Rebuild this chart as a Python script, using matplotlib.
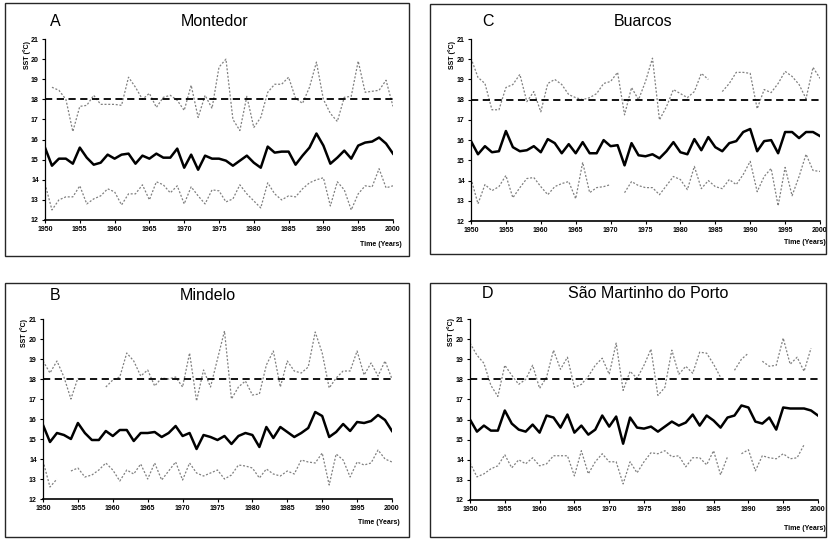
import numpy as np
import matplotlib
matplotlib.use("Agg")
import matplotlib.pyplot as plt
from matplotlib.patches import Rectangle

plt.rcParams['font.family'] = ['Liberation Sans', 'DejaVu Sans']

nan = np.nan
years = np.arange(1950, 2001)
threshold = 18.0

# Montedor (A)
montedor_max = [nan, 18.6, 18.45, 18.0, 16.4, 17.65, 17.7, 18.2, 17.75, 17.75,
                17.75, 17.7, 19.1, 18.6, 18.0, 18.3, 17.6, 18.1, 18.2, 17.95,
                17.45, 18.7, 17.1, 18.2, 17.55, 19.6, 20.0, 17.0, 16.45, 18.15,
                16.6, 17.1, 18.35, 18.75, 18.75, 19.1, 18.05, 17.8, 18.6, 19.85,
                18.0, 17.3, 16.9, 18.1, 18.15, 19.9, 18.35, 18.4, 18.45, 18.95, 17.65]
montedor_mean = [15.6, 14.7, 15.05, 15.05, 14.8, 15.6, 15.1, 14.75, 14.85, 15.25,
                 15.05, 15.25, 15.3, 14.8, 15.2, 15.05, 15.3, 15.1, 15.1, 15.55,
                 14.6, 15.25, 14.5, 15.2, 15.05, 15.05, 14.95, 14.7, 14.95, 15.2,
                 14.85, 14.6, 15.65, 15.35, 15.4, 15.4, 14.75, 15.2, 15.6, 16.3,
                 15.7, 14.8, 15.1, 15.45, 15.05, 15.7, 15.85, 15.9, 16.1, 15.8, 15.3]
montedor_min = [13.8, 12.5, 13.0, 13.15, 13.15, 13.7, 12.8, 13.05, 13.2, 13.55,
                13.4, 12.75, 13.3, 13.3, 13.75, 13.0, 13.9, 13.75, 13.35, 13.7,
                12.8, 13.65, 13.2, 12.8, 13.5, 13.45, 12.9, 13.05, 13.75, 13.3,
                12.95, 12.6, 13.85, 13.3, 13.0, 13.2, 13.15, 13.55, 13.85, 14.0,
                14.1, 12.7, 13.9, 13.5, 12.5, 13.3, 13.7, 13.65, 14.55, 13.6, 13.7]

# Buarcos (C)
buarcos_max = [20.05, 19.1, 18.8, 17.5, 17.5, 18.6, 18.75, 19.25, 17.9, 18.4,
               17.4, 18.8, 19.0, 18.75, 18.25, 18.1, 18.0, 18.1, 18.3, 18.8,
               18.9, 19.35, 17.25, 18.6, 18.0, 18.9, 20.05, 17.0, 17.65, 18.5,
               18.3, 18.1, 18.4, 19.3, 19.0, nan, 18.4, 18.8, 19.35, 19.35,
               19.3, 17.55, 18.5, 18.35, 18.8, 19.4, 19.15, 18.75, 18.05, 19.6, 19.05]
buarcos_mean = [15.95, 15.3, 15.7, 15.4, 15.45, 16.45, 15.65, 15.45, 15.5, 15.7,
                15.4, 16.05, 15.85, 15.35, 15.8, 15.35, 15.9, 15.35, 15.35, 16.0,
                15.7, 15.75, 14.75, 15.85, 15.25, 15.2, 15.3, 15.1, 15.45, 15.9,
                15.4, 15.3, 16.05, 15.5, 16.15, 15.65, 15.45, 15.85, 15.95, 16.4,
                16.55, 15.45, 15.95, 16.0, 15.35, 16.4, 16.4, 16.1, 16.4, 16.4, 16.2]
buarcos_min = [14.1, 12.85, 13.8, 13.5, 13.7, 14.25, 13.15, 13.65, 14.1, 14.15,
               13.7, 13.3, 13.7, 13.85, 13.95, 13.1, 14.9, 13.4, 13.65, 13.7,
               13.8, nan, 13.4, 13.95, 13.75, 13.65, 13.65, 13.3, 13.75, 14.2,
               14.05, 13.55, 14.7, 13.6, 14.0, 13.7, 13.6, 14.05, 13.8, 14.3,
               14.95, 13.45, 14.2, 14.6, 12.75, 14.65, 13.25, 14.2, 15.3, 14.5, 14.45]

# Mindelo (B)
mindelo_max = [18.9, 18.3, 18.9, 18.1, 17.0, 18.05, nan, nan, nan, 17.6,
               17.95, 18.1, 19.3, 18.9, 18.15, 18.45, 17.65, 18.05, 18.0, 18.1,
               17.6, 19.3, 16.9, 18.45, 17.6, 19.0, 20.4, 17.0, 17.6, 17.9,
               17.2, 17.25, 18.7, 19.4, 17.6, 18.9, 18.4, 18.3, 18.6, 20.35,
               19.3, 17.55, 18.05, 18.4, 18.4, 19.4, 18.2, 18.8, 18.15, 18.9, 18.0]
mindelo_mean = [15.7, 14.85, 15.3, 15.2, 15.0, 15.8, 15.3, 14.95, 14.95, 15.4,
                15.15, 15.45, 15.45, 14.9, 15.3, 15.3, 15.35, 15.1, 15.3, 15.65,
                15.15, 15.3, 14.5, 15.2, 15.1, 14.95, 15.15, 14.75, 15.15, 15.3,
                15.2, 14.6, 15.6, 15.05, 15.6, 15.35, 15.1, 15.3, 15.55, 16.35,
                16.15, 15.1, 15.35, 15.75, 15.4, 15.85, 15.8, 15.9, 16.2, 15.95, 15.4]
mindelo_min = [13.9, 12.6, 13.0, nan, 13.4, 13.55, 13.1, 13.2, 13.45, 13.8,
               13.45, 12.9, 13.45, 13.25, 13.75, 13.0, 13.8, 12.95, 13.4, 13.85,
               12.95, 13.8, 13.3, 13.15, 13.3, 13.45, 13.0, 13.2, 13.7, 13.65,
               13.55, 13.05, 13.5, 13.25, 13.15, 13.4, 13.25, 13.95, 13.85, 13.8,
               14.3, 12.7, 14.25, 13.95, 13.1, 13.85, 13.7, 13.8, 14.45, 14.0, 13.85]

# Sao Martinho do Porto (D)
smp_max = [19.8, 19.2, 18.8, 17.7, 17.15, 18.7, 18.2, 17.75, 18.0, 18.7,
           17.55, 18.1, 19.45, 18.5, 19.1, 17.6, 17.75, 18.15, 18.7, 19.05,
           18.25, 19.8, 17.45, 18.4, 18.05, 18.7, 19.5, 17.2, 17.6, 19.45,
           18.25, 18.65, 18.3, 19.35, 19.3, 18.75, 18.1, nan, 18.45, 19.0,
           19.3, nan, 18.9, 18.65, 18.7, 20.05, 18.75, 19.1, 18.4, 19.55, nan]
smp_mean = [16.0, 15.4, 15.7, 15.45, 15.45, 16.45, 15.8, 15.5, 15.4, 15.75,
            15.35, 16.2, 16.1, 15.6, 16.25, 15.35, 15.7, 15.25, 15.5, 16.2,
            15.65, 16.15, 14.8, 16.1, 15.6, 15.55, 15.65, 15.4, 15.65, 15.9,
            15.7, 15.85, 16.25, 15.7, 16.2, 15.95, 15.6, 16.1, 16.2, 16.7,
            16.6, 15.9, 15.8, 16.1, 15.5, 16.6, 16.55, 16.55, 16.55, 16.45, 16.2]
smp_min = [13.85, 13.15, 13.3, 13.55, 13.7, 14.25, 13.6, 14.0, 13.8, 14.1,
           13.7, 13.8, 14.2, 14.2, 14.2, 13.2, 14.45, 13.3, 13.9, 14.3,
           13.9, 13.9, 12.8, 13.9, 13.35, 13.9, 14.35, 14.3, 14.45, 14.15,
           14.2, 13.65, 14.1, 14.1, 13.75, 14.45, 13.25, 14.15, nan, 14.3,
           14.5, 13.45, 14.2, 14.1, 14.05, 14.3, 14.05, 14.1, 14.75, nan, 14.5]

W, H = 829, 540
fig = plt.figure(figsize=(W / 100, H / 100), dpi=100)


def fx(x):
    return x / W


def fy(y):
    return 1 - y / H


# panel layout in pixels: axes (x0, x1, ytop, ybottom), frame box, text spots
panels = [
    dict(letter='A', name='Montedor', data=(montedor_max, montedor_mean, montedor_min),
         ax=(45, 393, 39, 220), box=(5, 3, 409, 256), letter_xy=(50, 22), title_x=215,
         ylab=(27, 55), xlab=(402, 244)),
    dict(letter='C', name='Buarcos', data=(buarcos_max, buarcos_mean, buarcos_min),
         ax=(471, 820, 39, 221), box=(430, 4, 826, 254), letter_xy=(482, 22), title_x=643,
         ylab=(452, 55), xlab=(826, 243)),
    dict(letter='B', name='Mindelo', data=(mindelo_max, mindelo_mean, mindelo_min),
         ax=(43, 392, 319, 499), box=(5, 283, 409, 537), letter_xy=(50, 295), title_x=208,
         ylab=(24, 333), xlab=(400, 523)),
    dict(letter='D', name='São Martinho do Porto', data=(smp_max, smp_mean, smp_min),
         ax=(470, 818, 319, 500), box=(430, 283, 826, 537), letter_xy=(482, 293), title_x=648,
         ylab=(451, 332), xlab=(826, 528)),
]

for p in panels:
    x0, x1, yt, yb = p['ax']
    ax = fig.add_axes([fx(x0), fy(yb), (x1 - x0) / W, (yb - yt) / H])
    hi, mean, lo = p['data']

    ax.plot(years, hi, color='0.5', lw=0.9, ls=(0, (1.6, 1.4)))
    ax.plot(years, lo, color='0.5', lw=0.9, ls=(0, (1.6, 1.4)))
    ax.plot(years, mean, color='black', lw=1.8)
    ax.axhline(threshold, color='black', lw=1.3, ls=(0, (4, 2.5)))

    ax.set_xlim(1950, 2000)
    ax.set_ylim(12, 21)
    ax.set_xticks(np.arange(1950, 2001, 5))
    ax.set_yticks(np.arange(12, 22, 1))
    ax.tick_params(labelsize=5, length=2.5, width=0.8, pad=2)
    for lab in ax.get_xticklabels() + ax.get_yticklabels():
        lab.set_fontweight('bold')
    for s in ['top', 'right']:
        ax.spines[s].set_visible(False)
    ax.spines['left'].set_linewidth(0.9)
    ax.spines['bottom'].set_linewidth(1.2)
    ax.patch.set_alpha(0)

    bx0, by0, bx1, by1 = p['box']
    fig.patches.append(Rectangle((fx(bx0), fy(by1)), (bx1 - bx0) / W, (by1 - by0) / H,
                                 transform=fig.transFigure, fill=False,
                                 edgecolor='0.15', lw=1.0))

    lx, ly = p['letter_xy']
    fig.text(fx(lx), fy(ly), p['letter'], fontsize=11.5, ha='left', va='center')
    fig.text(fx(p['title_x']), fy(ly), p['name'], fontsize=11.5, ha='center', va='center')
    fig.text(fx(p['ylab'][0]), fy(p['ylab'][1]), 'SST (°C)', fontsize=5, fontweight='bold',
             rotation=90, ha='center', va='center')
    fig.text(fx(p['xlab'][0]), fy(p['xlab'][1]), 'Time (Years)', fontsize=5,
             fontweight='bold', ha='right', va='center')

fig.savefig('out.png', dpi=100, facecolor='white')
